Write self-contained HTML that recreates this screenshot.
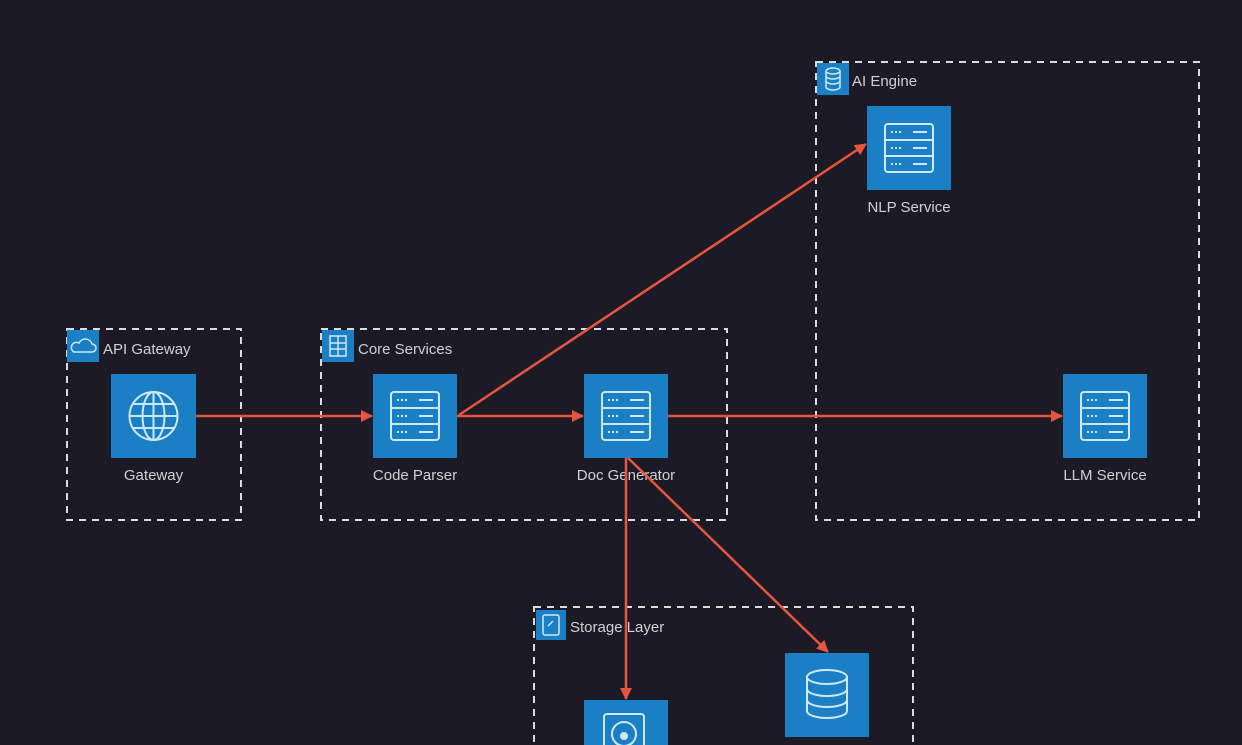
<!DOCTYPE html>
<html><head><meta charset="utf-8"><style>
html,body{margin:0;padding:0;background:#1c1b25;}
svg{display:block}
text{font-family:"Liberation Sans",sans-serif;fill:#d0d0d4;font-size:15px}
</style></head><body>
<svg width="1242" height="745" viewBox="0 0 1242 745" xmlns="http://www.w3.org/2000/svg">
<defs>
<g id="srv">
<rect x="18" y="18" width="48" height="48" rx="3" fill="none" stroke="#cfe8f7" stroke-width="2"/>
<line x1="18" y1="34" x2="66" y2="34" stroke="#cfe8f7" stroke-width="2"/>
<line x1="18" y1="50" x2="66" y2="50" stroke="#cfe8f7" stroke-width="2"/>
<g stroke="#cfe8f7" stroke-width="2">
<line x1="24" y1="26" x2="34" y2="26" stroke-dasharray="2 2"/><line x1="46" y1="26" x2="60" y2="26"/>
<line x1="24" y1="42" x2="34" y2="42" stroke-dasharray="2 2"/><line x1="46" y1="42" x2="60" y2="42"/>
<line x1="24" y1="58" x2="34" y2="58" stroke-dasharray="2 2"/><line x1="46" y1="58" x2="60" y2="58"/>
</g>
</g>
<marker id="ar" markerWidth="12" markerHeight="12" refX="11" refY="6" orient="auto" markerUnits="userSpaceOnUse">
<path d="M0,0 L12,6 L0,12 Z" fill="#e5553f"/></marker>
</defs>
<g fill="none" stroke="#dcdcdc" stroke-width="2" stroke-dasharray="7 6">
<rect x="67" y="329" width="174" height="191"/>
<rect x="321" y="329" width="406" height="191"/>
<rect x="816" y="62" width="383" height="458"/>
<rect x="534" y="607" width="379" height="150"/>
</g>
<rect x="67" y="330" width="32" height="32" fill="#1a7fc4"/>
<path d="M74,352 h18 a4,4 0 0 0 0,-8 a7,7 0 0 0 -13,-1 a4,4 0 0 0 -5,9z" fill="none" stroke="#cfe8f7" stroke-width="1.5"/>
<rect x="322" y="330" width="32" height="32" fill="#1a7fc4"/>
<rect x="330" y="336" width="16" height="20" fill="none" stroke="#cfe8f7" stroke-width="1.5"/>
<line x1="330" y1="343" x2="346" y2="343" stroke="#cfe8f7" stroke-width="1.5"/><line x1="330" y1="349" x2="346" y2="349" stroke="#cfe8f7" stroke-width="1.5"/><line x1="338" y1="336" x2="338" y2="356" stroke="#cfe8f7" stroke-width="1.5"/>
<rect x="817" y="63" width="32" height="32" fill="#1a7fc4"/>
<ellipse cx="833" cy="71" rx="7" ry="3" fill="none" stroke="#cfe8f7" stroke-width="1.5"/>
<path d="M826,71 v16 a7,3 0 0 0 14,0 v-16 M826,76 a7,3 0 0 0 14,0 M826,81 a7,3 0 0 0 14,0" fill="none" stroke="#cfe8f7" stroke-width="1.5"/>
<rect x="536" y="610" width="30" height="30" fill="#1a7fc4"/>
<rect x="543" y="615" width="16" height="20" rx="2" fill="none" stroke="#cfe8f7" stroke-width="1.5"/>
<path d="M548,626 l5,-5" stroke="#cfe8f7" stroke-width="1.5"/>
<text x="103" y="354">API Gateway</text>
<text x="358" y="354">Core Services</text>
<text x="852" y="86">AI Engine</text>
<text x="570" y="632">Storage Layer</text>
<rect x="111" y="374" width="85" height="84" fill="#1a7fc4"/>
<g fill="none" stroke="#cfe8f7" stroke-width="2">
<circle cx="153.5" cy="416" r="24"/><ellipse cx="153.5" cy="416" rx="11" ry="24"/>
<line x1="153.5" y1="392" x2="153.5" y2="440"/><line x1="129.5" y1="416" x2="177.5" y2="416"/>
<line x1="133" y1="404" x2="174" y2="404"/><line x1="133" y1="428" x2="174" y2="428"/></g>
<rect x="373" y="374" width="84" height="84" fill="#1a7fc4"/><use href="#srv" x="373" y="374"/>
<rect x="584" y="374" width="84" height="84" fill="#1a7fc4"/><use href="#srv" x="584" y="374"/>
<rect x="867" y="106" width="84" height="84" fill="#1a7fc4"/><use href="#srv" x="867" y="106"/>
<rect x="1063" y="374" width="84" height="84" fill="#1a7fc4"/><use href="#srv" x="1063" y="374"/>
<rect x="785" y="653" width="84" height="84" fill="#1a7fc4"/>
<g fill="none" stroke="#cfe8f7" stroke-width="2"><ellipse cx="827" cy="677" rx="20" ry="7"/>
<path d="M807,677 v34 a20,7 0 0 0 40,0 v-34 M807,689 a20,7 0 0 0 40,0 M807,700 a20,7 0 0 0 40,0"/></g>
<rect x="584" y="700" width="84" height="50" fill="#1a7fc4"/>
<rect x="604" y="714" width="40" height="40" rx="3" fill="none" stroke="#cfe8f7" stroke-width="2"/>
<circle cx="624" cy="734" r="12" fill="none" stroke="#cfe8f7" stroke-width="2"/><circle cx="624" cy="736" r="4" fill="#cfe8f7"/>
<g text-anchor="middle">
<text x="153.5" y="480">Gateway</text>
<text x="415" y="480">Code Parser</text>
<text x="626" y="480">Doc Generator</text>
<text x="909" y="212">NLP Service</text>
<text x="1105" y="480">LLM Service</text>
</g>
<g stroke="#e5553f" stroke-width="2.5" fill="none" marker-end="url(#ar)">
<line x1="196" y1="416" x2="372" y2="416"/>
<line x1="457" y1="416" x2="583" y2="416"/>
<line x1="459" y1="415" x2="866" y2="144"/>
<line x1="668" y1="416" x2="1062" y2="416"/>
<line x1="626" y1="458" x2="626" y2="699"/>
<line x1="628" y1="458" x2="828" y2="652"/>
</g>
</svg>
</body></html>
